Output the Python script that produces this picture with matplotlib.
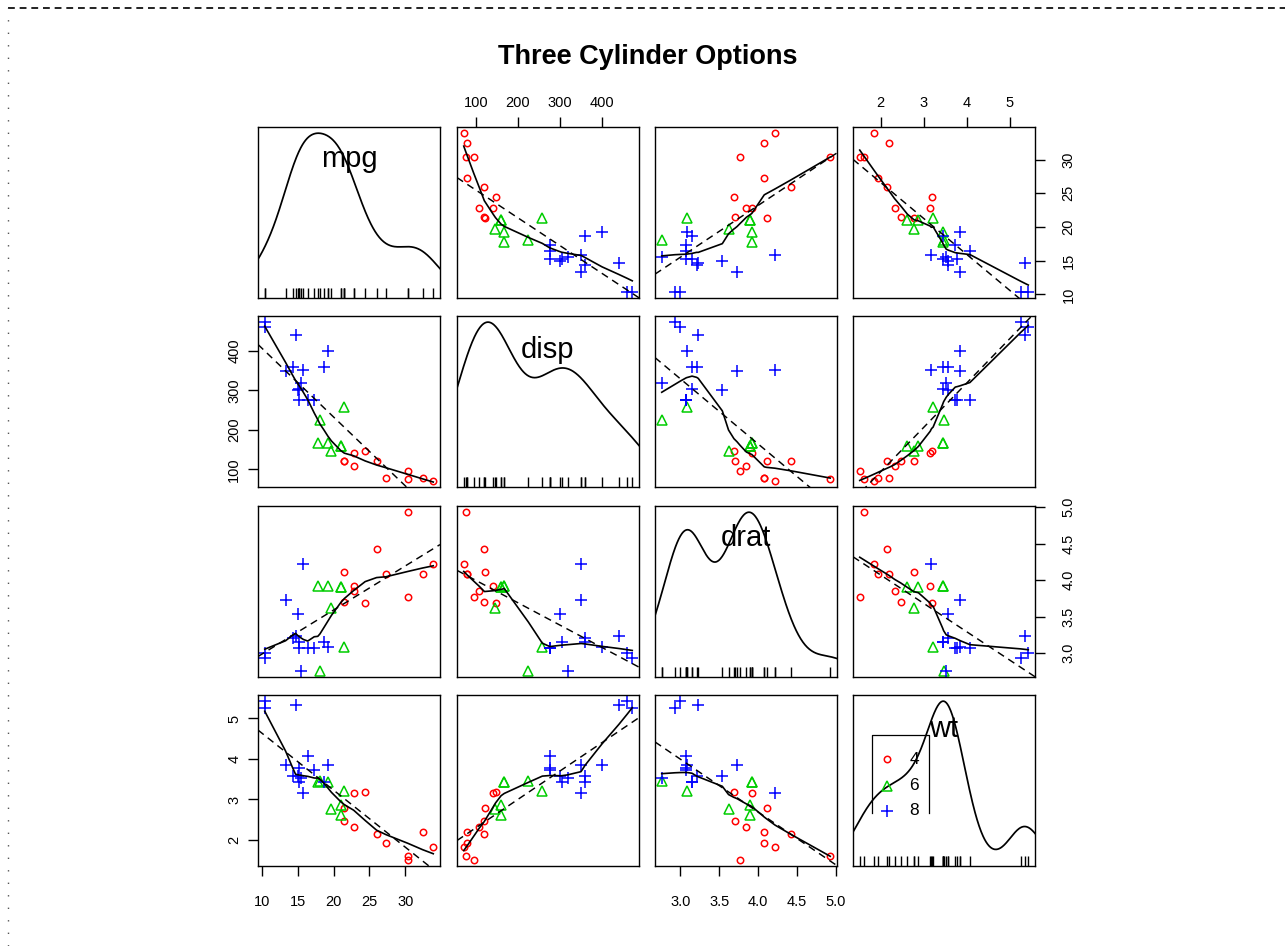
import numpy as np
import matplotlib
matplotlib.use("Agg")
import matplotlib.pyplot as plt
from matplotlib.lines import Line2D

plt.rcParams['font.family'] = ['Liberation Sans', 'DejaVu Sans']

# mtcars subset
mpg = [21.0, 21.0, 22.8, 21.4, 18.7, 18.1, 14.3, 24.4, 22.8, 19.2, 17.8, 16.4, 17.3, 15.2,
       10.4, 10.4, 14.7, 32.4, 30.4, 33.9, 21.5, 15.5, 15.2, 13.3, 19.2, 27.3, 26.0, 30.4,
       15.8, 19.7, 15.0, 21.4]
cyl = [6, 6, 4, 6, 8, 6, 8, 4, 4, 6, 6, 8, 8, 8, 8, 8, 8, 4, 4, 4, 4, 8, 8, 8, 8, 4, 4, 4,
       8, 6, 8, 4]
disp = [160.0, 160.0, 108.0, 258.0, 360.0, 225.0, 360.0, 146.7, 140.8, 167.6, 167.6, 275.8,
        275.8, 275.8, 472.0, 460.0, 440.0, 78.7, 75.7, 71.1, 120.1, 318.0, 304.0, 350.0,
        400.0, 79.0, 120.3, 95.1, 351.0, 145.0, 301.0, 121.0]
drat = [3.90, 3.90, 3.85, 3.08, 3.15, 2.76, 3.21, 3.69, 3.92, 3.92, 3.92, 3.07, 3.07, 3.07,
        2.93, 3.00, 3.23, 4.08, 4.93, 4.22, 3.70, 2.76, 3.15, 3.73, 3.08, 4.08, 4.43, 3.77,
        4.22, 3.62, 3.54, 4.11]
wt = [2.620, 2.875, 2.320, 3.215, 3.440, 3.460, 3.570, 3.190, 3.150, 3.440, 3.440, 4.070,
      3.730, 3.780, 5.250, 5.424, 5.345, 2.200, 1.615, 1.835, 2.465, 3.520, 3.435, 3.840,
      3.845, 1.935, 2.140, 1.513, 3.170, 2.770, 3.570, 2.780]

var_names = ['mpg', 'disp', 'drat', 'wt']
variables = [mpg, disp, drat, wt]
ticks = [[10, 15, 20, 25, 30], [100, 200, 300, 400], [3.0, 3.5, 4.0, 4.5, 5.0], [2, 3, 4, 5]]
tick_labels = [['10', '15', '20', '25', '30'], ['100', '200', '300', '400'],
               ['3.0', '3.5', '4.0', '4.5', '5.0'], ['2', '3', '4', '5']]
groups = [4, 6, 8]
group_labels = ['4', '6', '8']
title = 'Three Cylinder Options'

colors = {4: '#FF0000', 6: '#00CD00', 8: '#0000FF'}
markers = {4: 'o', 6: '^', 8: '+'}
msizes = {4: 4.6, 6: 7.0, 8: 8.5}


def lowess(x, y, f=0.5, iters=3):
    x = np.asarray(x, float); y = np.asarray(y, float)
    o = np.argsort(x, kind='mergesort')
    x = x[o]; y = y[o]
    n = len(x)
    ns = max(min(int(f * n + 1e-7), n), 2)
    rw = np.ones(n)
    ys = np.zeros(n)
    rng = x[-1] - x[0]
    for it in range(iters + 1):
        for i in range(n):
            d = np.abs(x - x[i])
            h = np.sort(d)[ns - 1]
            w = np.zeros(n)
            if h > 0:
                r = d / h
                inside = d <= 0.999 * h
                w[inside] = (1 - r[inside] ** 3) ** 3
                w[d <= 0.001 * h] = 1.0
            else:
                w[d == 0] = 1.0
            w = w * rw
            if w.sum() <= 0:
                ys[i] = y[i]
                continue
            w = w / w.sum()
            if h > 0:
                a = np.sum(w * x)
                b = x[i] - a
                c = np.sum(w * (x - a) ** 2)
                if np.sqrt(c) > 0.001 * rng:
                    b = b / c
                    w = w * (b * (x - a) + 1.0)
            ys[i] = np.sum(w * y)
        if it == iters:
            break
        res = y - ys
        cmad = 6 * np.median(np.abs(res))
        if cmad < 1e-7 * np.mean(np.abs(y)):
            break
        u = np.abs(res) / cmad
        rw = np.where(u < 1, (1 - u ** 2) ** 2, 0.0)
        rw[np.abs(res) <= 0.001 * cmad] = 1.0
    return x, ys


def density(x):
    x = np.asarray(x, float)
    n = len(x)
    q75, q25 = np.percentile(x, [75, 25])
    bw = 0.9 * min(np.std(x, ddof=1), (q75 - q25) / 1.34) * n ** (-0.2)
    grid = np.linspace(x.min() - 3 * bw, x.max() + 3 * bw, 512)
    dens = np.exp(-0.5 * ((grid[:, None] - x[None, :]) / bw) ** 2).sum(axis=1) / (n * bw * np.sqrt(2 * np.pi))
    return grid, dens


W, H = 1285, 946
fig = plt.figure(figsize=(W / 100, H / 100), dpi=100)

col_left = [258, 457, 655, 853]
row_top = [127, 316, 506, 695]
pw, ph = 182, 171
label_y = [0.815, 0.80, 0.81, 0.80]

cyl_arr = np.array(cyl)
for i in range(4):          # row -> y variable
    for j in range(4):      # col -> x variable
        l = col_left[j] / W
        b = 1 - (row_top[i] + ph) / H
        ax = fig.add_axes([l, b, pw / W, ph / H])
        xv = np.array(variables[j], float)
        yv = np.array(variables[i], float)
        xr = xv.max() - xv.min()
        yr = yv.max() - yv.min()
        xlim = (xv.min() - 0.04 * xr, xv.max() + 0.04 * xr)
        ylim = (yv.min() - 0.04 * yr, yv.max() + 0.04 * yr)
        ax.set_xlim(xlim)
        ax.set_ylim(ylim)
        for s in ax.spines.values():
            s.set_linewidth(1.0)
        if i == j:
            g, d = density(xv)
            yd = xv.min() + d * xr / (d.max() - d.min())
            ax.plot(g, yd, color='black', lw=1.25)
            ax.vlines(xv, 0, 0.06, transform=ax.get_xaxis_transform(), color='black', lw=1.0)
            ax.text(0.5, label_y[i], var_names[i], transform=ax.transAxes, ha='center', va='center',
                    fontsize=21)
            if i == 3:
                ax.plot([0.104, 0.104, 0.418, 0.418], [0.31, 0.766, 0.766, 0.31],
                        transform=ax.transAxes, color='black', lw=0.9)
                for k, gval in enumerate(groups):
                    yy = [0.625, 0.468, 0.322][k]
                    ax.plot([0.187], [yy], transform=ax.transAxes, ls='none',
                            marker=markers[gval], ms=msizes[gval], mfc='none',
                            mec=colors[gval], mew=1.1)
                    ax.text(0.31, yy, group_labels[k], transform=ax.transAxes,
                            ha='left', va='center', fontsize=12.5)
        else:
            for gval in groups:
                m = cyl_arr == gval
                ax.plot(xv[m], yv[m], ls='none', marker=markers[gval], ms=msizes[gval],
                        mfc='none', mec=colors[gval], mew=1.1)
            coef = np.polyfit(xv, yv, 1)
            xx = np.array(xlim)
            ax.plot(xx, coef[0] * xx + coef[1], color='black', lw=1.05, ls=(0, (5, 3.5)))
            lx, ly = lowess(xv, yv, 0.5, 3)
            ax.plot(lx, ly, color='black', lw=1.2)

        # axes ticks
        ax.tick_params(axis='both', which='both', bottom=False, top=False, left=False,
                       right=False, labelbottom=False, labeltop=False, labelleft=False,
                       labelright=False, length=7, width=1.0, labelsize=10.5)
        ax.set_xticks(ticks[j])
        ax.set_xticklabels(tick_labels[j])
        ax.set_yticks(ticks[i])
        ax.set_yticklabels(tick_labels[i])
        if i == 0 and j in (1, 3):
            ax.tick_params(axis='x', top=True, labeltop=True, pad=5)
        if i == 3 and j in (0, 2):
            ax.tick_params(axis='x', bottom=True, labelbottom=True, pad=14)
        if j == 0 and i in (1, 3):
            ax.tick_params(axis='y', left=True, labelleft=True, pad=5, labelrotation=90)
        if j == 3 and i in (0, 2):
            ax.tick_params(axis='y', right=True, labelright=True, pad=12, labelrotation=90)
        for lab in ax.get_yticklabels():
            lab.set_va('center')

fig.text(648 / W, 1 - 57 / H, title, ha='center', va='center', fontsize=19.5, fontweight='bold')

# outer dashed frame
fig.add_artist(Line2D([8 / W, 1.0], [1 - 8 / H, 1 - 8 / H], transform=fig.transFigure,
                      color='#222222', lw=1.4, ls=(0, (3.5, 2.5))))
fig.add_artist(Line2D([8 / W, 8 / W], [0.0, 1 - 8 / H], transform=fig.transFigure,
                      color='#555555', lw=1.0, ls=(0, (1, 8))))

fig.savefig('out.png', dpi=100)
